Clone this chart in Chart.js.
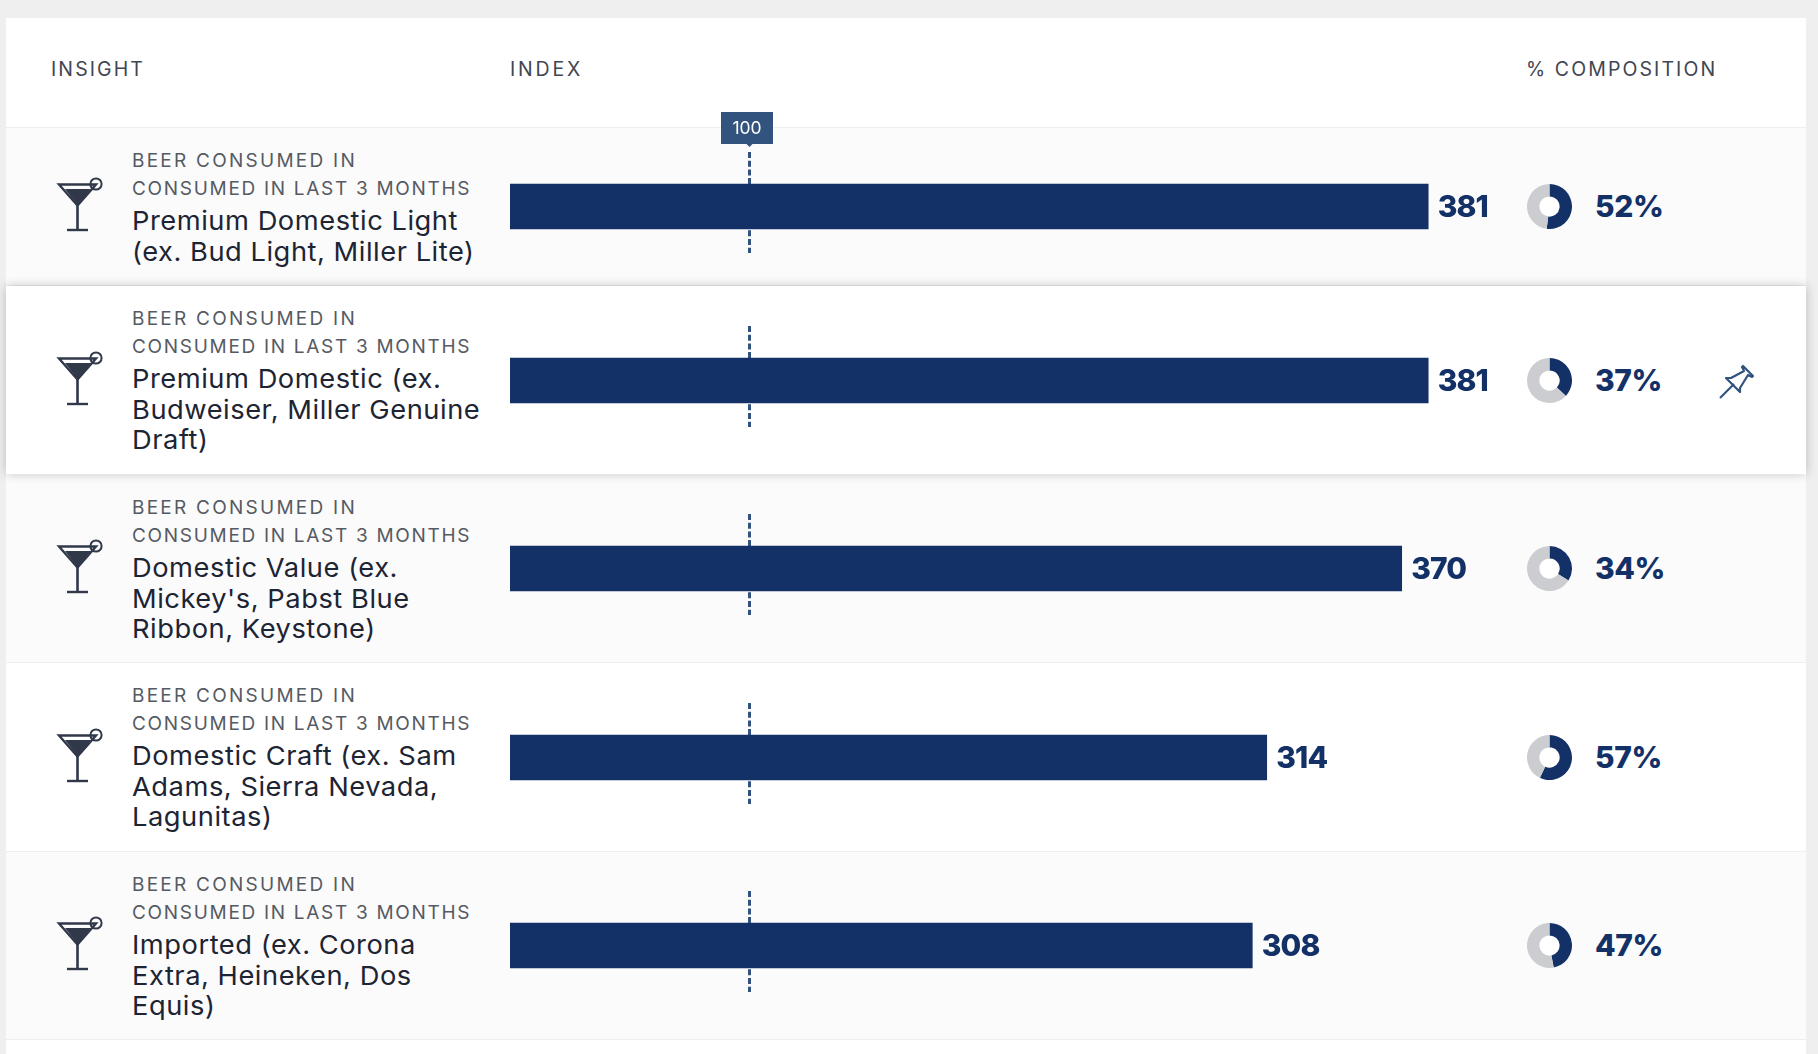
<!DOCTYPE html>
<html>
<head>
<meta charset="utf-8">
<title>Beer insight index</title>
<script src="https://cdn.jsdelivr.net/npm/chart.js@4"></script>
<style>
    html, body { margin: 0; padding: 0; background: #efefef; overflow: hidden; }
    body { width: 1818px; height: 1054px; position: relative; font-family: Inter, sans-serif; }
    #card { position: absolute; left: 6px; top: 18px; width: 1800px; height: 1036px; background: #fff; }
    .head { position: absolute; top: 39.5px; font-size: 19.5px; line-height: 22px; letter-spacing: 2.1px; color: #414652; }
    .row { position: absolute; left: 0; width: 1800px; box-sizing: border-box; border-bottom: 1px solid #eee; background: #fbfbfb; }
    .row.plain { background: #fff; }
    .row.active { background: #fff; z-index: 2; border-bottom: 0; box-shadow: 0 0 10px rgba(0,0,0,.22); }
    .row.first { border-top: 1px solid #eee; }
    .txt { position: absolute; left: 126px; top: 19px; white-space: nowrap; z-index: 3; }
    .sub { font-size: 19px; line-height: 28px; letter-spacing: 1.7px; color: #565a63; }
    .sub span { letter-spacing: 2.25px; }
    /* Inter is narrower than the original face, so stretch the names a bit */
    .name { font-size: 26px; line-height: 30.5px; letter-spacing: .5px; color: #1d2433; margin-top: 3px;
            transform: scaleX(1.05); transform-origin: left top; }
    .pct { position: absolute; left: 1589px; font-size: 30px; line-height: 36px; font-weight: 800; letter-spacing: -.4px; color: #133166; z-index: 3; }
    canvas { position: absolute; z-index: 3; }
    svg { position: absolute; z-index: 3; }
</style>
</head>
<body>
<div id="card">
    <div class="head" style="left:45px">INSIGHT</div>
    <div class="head" style="left:504px;letter-spacing:2.8px">INDEX</div>
    <div class="head" style="left:1520px">% COMPOSITION</div>
</div>

<script>
const subLabel = ["BEER CONSUMED IN", "CONSUMED IN LAST 3 MONTHS"];
const categories = [
    ["Premium Domestic Light", "(ex. Bud Light, Miller Lite)"],
    ["Premium Domestic (ex.", "Budweiser, Miller Genuine", "Draft)"],
    ["Domestic Value (ex.", "Mickey's, Pabst Blue", "Ribbon, Keystone)"],
    ["Domestic Craft (ex. Sam", "Adams, Sierra Nevada,", "Lagunitas)"],
    ["Imported (ex. Corona", "Extra, Heineken, Dos", "Equis)"]
];
const indexValues = [381, 381, 370, 314, 308];
const compositionValues = [52, 37, 34, 57, 47];
const referenceIndex = 100;

// page layout, in page pixels
const rowTops = [127, 286, 475, 663, 852];
const rowHeights = [159, 188, 188, 189, 188];
const barCenters = [206.5, 380.5, 568.5, 757.5, 945.5];
const pxPerUnit = 2.41;
const navy = "#133166";
const refBlue = "#33537f";

const card = document.getElementById("card");
const cardTop = 18, cardLeft = 6;

// dashed 100 line behind the bar, plus the little tag on the first row
const refLine = {
    id: "refLine",
    beforeDatasetsDraw(chart, args, opts) {
        const ctx = chart.ctx;
        const x = Math.round(chart.scales.x.getPixelForValue(referenceIndex)) - 1.5;
        const mid = chart.height / 2;
        ctx.save();
        ctx.strokeStyle = refBlue;
        ctx.lineWidth = 3;
        ctx.setLineDash([6, 2.7]);
        ctx.beginPath();
        ctx.moveTo(x, mid - 54.5);
        ctx.lineTo(x, mid + 46.5);
        ctx.stroke();
        ctx.setLineDash([]);
        if (opts.tag) {
            ctx.fillStyle = refBlue;
            ctx.fillRect(x - 28.5, mid - 94.5, 52, 32);
            ctx.beginPath();
            ctx.moveTo(x - 3, mid - 62.5);
            ctx.lineTo(x + 3, mid - 62.5);
            ctx.lineTo(x, mid - 59.5);
            ctx.fill();
            ctx.fillStyle = "#fff";
            ctx.font = "400 17.5px Inter";
            ctx.textAlign = "center";
            ctx.textBaseline = "middle";
            ctx.fillText(String(referenceIndex), x - 2.5, mid - 78);
        }
        ctx.restore();
    }
};

// number at the end of the bar
const barValue = {
    id: "barValue",
    afterDatasetsDraw(chart) {
        const ctx = chart.ctx;
        const bar = chart.getDatasetMeta(0).data[0];
        ctx.save();
        ctx.fillStyle = navy;
        ctx.font = "800 30px Inter";
        ctx.letterSpacing = "-0.9px";
        ctx.textBaseline = "middle";
        ctx.fillText(chart.data.datasets[0].data[0], bar.x + 9.5, bar.y + 1);
        ctx.restore();
    }
};

// hole of the donut stays white on the grey rows too
const whiteHole = {
    id: "whiteHole",
    beforeDatasetsDraw(chart) {
        const arc = chart.getDatasetMeta(0).data[0];
        const ctx = chart.ctx;
        ctx.save();
        ctx.fillStyle = "#fff";
        ctx.beginPath();
        ctx.arc(arc.x, arc.y, arc.innerRadius + 0.5, 0, Math.PI * 2);
        ctx.fill();
        ctx.restore();
    }
};

function addCanvas(left, top, w, h) {
    const c = document.createElement("canvas");
    c.width = w;
    c.height = h;
    c.style.left = left + "px";
    c.style.top = top + "px";
    c.style.width = w + "px";
    c.style.height = h + "px";
    card.appendChild(c);
    return c;
}

function glassIcon(top) {
    const s = `<svg style="left:50px;top:${top}px" width="52" height="56" viewBox="0 0 52 56">
        <path d="M3 7.5H40L21.5 28.5Z" fill="none" stroke="#30384a" stroke-width="2.4" stroke-linejoin="miter"/>
        <path d="M9 12H35L21.5 28Z" fill="#30384a"/>
        <path d="M21.5 28V52" stroke="#30384a" stroke-width="2.6"/>
        <path d="M11 53H32" stroke="#30384a" stroke-width="2.4"/>
        <circle cx="40" cy="7" r="5.6" fill="none" stroke="#30384a" stroke-width="2"/>
    </svg>`;
    card.insertAdjacentHTML("beforeend", s);
}

function pinIcon(top) {
    const s = `<svg style="left:1713px;top:${top}px" width="36" height="36" viewBox="0 0 36 36"
        fill="none" stroke="${refBlue}" stroke-width="2.2" stroke-linejoin="round">
        <path d="M1 34L15 20" />
        <path d="M7 14L21 28L21 24L29 11L33 13L34 12L24 2L23 3L25 7L12 14Z" />
    </svg>`;
    card.insertAdjacentHTML("beforeend", s);
}

categories.forEach((lines, i) => {
    const rowEl = document.createElement("div");
    rowEl.className = "row" + (i === 1 ? " active" : i === 3 ? " plain" : "") + (i === 0 ? " first" : "");
    rowEl.style.top = (rowTops[i] - cardTop) + "px";
    rowEl.style.height = rowHeights[i] + "px";
    rowEl.innerHTML = `<div class="txt"><div class="sub"><span>${subLabel[0]}</span><br>${subLabel[1]}</div>` +
        `<div class="name">${lines.join("<br>")}</div></div>`;
    card.appendChild(rowEl);

    const center = barCenters[i] - cardTop;

    glassIcon(Math.round(center - 30));

    const barCanvas = addCanvas(510 - cardLeft, center - 100.5, 1011, 201);
    new Chart(barCanvas, {
        type: "bar",
        data: {
            labels: [lines.join(" ")],
            datasets: [{
                data: [indexValues[i]],
                backgroundColor: navy,
                barThickness: 45
            }]
        },
        plugins: [refLine, barValue],
        options: {
            indexAxis: "y",
            responsive: false,
            animation: false,
            layout: { padding: 0 },
            plugins: {
                legend: { display: false },
                tooltip: { enabled: false },
                refLine: { tag: i === 0 }
            },
            scales: {
                x: { display: false, min: 0, max: 1011 / pxPerUnit },
                y: { display: false }
            }
        }
    });

    const donutCanvas = addCanvas(1521, center - 22.5, 45, 45);
    new Chart(donutCanvas, {
        type: "doughnut",
        data: {
            labels: ["Composition", "Rest"],
            datasets: [{
                data: [compositionValues[i], 100 - compositionValues[i]],
                backgroundColor: [navy, "#cbcdd0"],
                borderWidth: 0
            }]
        },
        plugins: [whiteHole],
        options: {
            responsive: false,
            animation: false,
            cutout: "45%",
            plugins: { legend: { display: false }, tooltip: { enabled: false } }
        }
    });

    card.insertAdjacentHTML("beforeend",
        `<div class="pct" style="top:${center - 18.5}px">${compositionValues[i]}%</div>`);

    if (i === 1) pinIcon(Math.round(center - 17));
});
</script>
</body>
</html>
